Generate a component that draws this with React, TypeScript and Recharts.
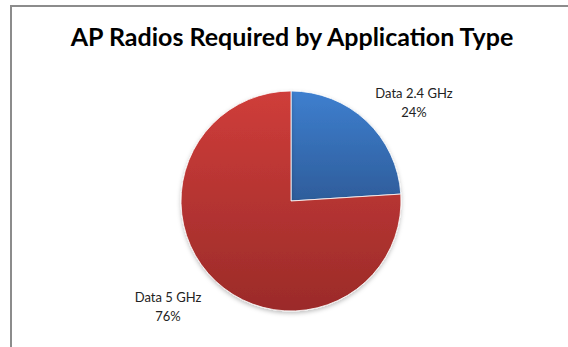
import React from "react";
import { PieChart, Pie, Cell } from "recharts";

const categories = ["Data 2.4 GHz", "Data 5 GHz"];
const shares = [24, 76];
const title = "AP Radios Required by Application Type";

const data = categories.map((name, i) => ({ name, value: shares[i] }));
const gradIds = ["gradBlue", "gradRed"];

const RAD = Math.PI / 180;

const renderLabel = (props: any) => {
  const { cx, cy, midAngle, outerRadius, index } = props;
  const r = outerRadius * 1.455;
  const a = (midAngle - 7) * RAD;
  const x = cx + r * Math.cos(a);
  const y = cy - r * Math.sin(a);
  return (
    <text
      x={x}
      y={y}
      textAnchor="middle"
      fill="#222"
      fontFamily="Lato, 'Open Sans', sans-serif"
      fontSize={13}
    >
      <tspan x={x} dy={-1}>{data[index].name}</tspan>
      <tspan x={x} dy={19}>{`${data[index].value}%`}</tspan>
    </text>
  );
};

export default function App() {
  return (
    <div
      style={{
        position: "absolute",
        left: 0,
        top: 0,
        width: 568,
        height: 347,
        background: "#fff",
        overflow: "hidden",
      }}
    >
      <div
        style={{
          position: "absolute",
          left: 10,
          top: 5,
          width: 700,
          height: 500,
          borderTop: "2px solid #8c8c8c",
          borderLeft: "2px solid #8c8c8c",
        }}
      />
      <div
        style={{
          position: "absolute",
          left: 0,
          top: 21,
          width: 584,
          textAlign: "center",
          fontFamily: "Lato, 'Open Sans', sans-serif",
          fontWeight: 700,
          fontSize: 25,
          color: "#000",
          lineHeight: "30px",
        }}
      >
        {title}
      </div>
      <div style={{ position: "absolute", left: 0, top: 0 }}>
        <PieChart width={568} height={347} margin={{ top: 0, right: 0, bottom: 0, left: 0 }}>
          <defs>
            <linearGradient id="gradBlue" x1="0" y1="0" x2="0" y2="1">
              <stop offset="0%" stopColor="#3e7fcf" />
              <stop offset="100%" stopColor="#2e5d9b" />
            </linearGradient>
            <linearGradient id="gradRed" x1="0" y1="0" x2="0" y2="1">
              <stop offset="0%" stopColor="#cf3d3a" />
              <stop offset="100%" stopColor="#9b2b29" />
            </linearGradient>
            <filter id="pieShadow" x="-20%" y="-20%" width="140%" height="140%">
              <feDropShadow dx="0" dy="2" stdDeviation="2" floodColor="#000" floodOpacity="0.25" />
            </filter>
          </defs>
          <Pie
            data={data}
            dataKey="value"
            nameKey="name"
            cx={291}
            cy={201}
            outerRadius={110}
            startAngle={90}
            endAngle={-270}
            stroke="#ffffff"
            strokeWidth={0.8}
            label={renderLabel}
            labelLine={false}
            isAnimationActive={false}
            style={{ filter: "url(#pieShadow)" }}
          >
            {data.map((d, i) => (
              <Cell key={d.name} fill={`url(#${gradIds[i]})`} />
            ))}
          </Pie>
        </PieChart>
      </div>
    </div>
  );
}
